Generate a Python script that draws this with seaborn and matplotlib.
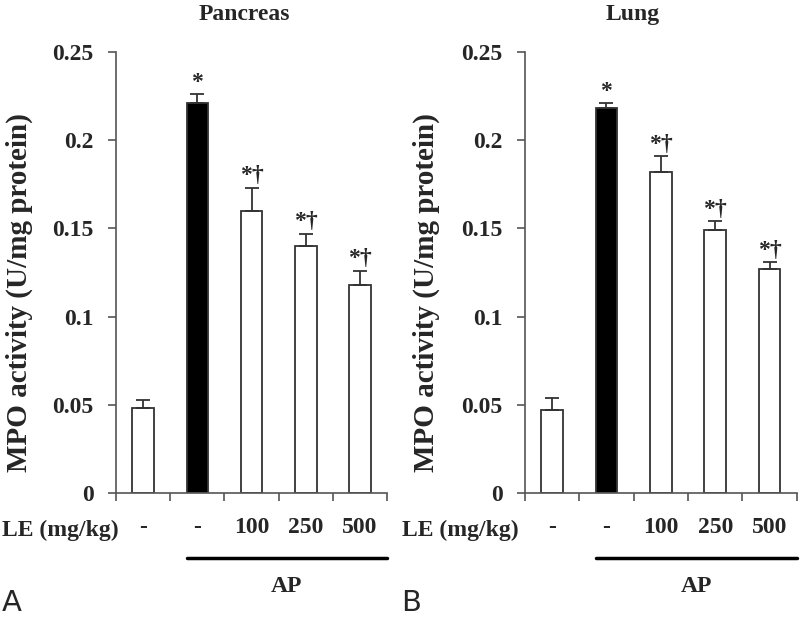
import numpy as np
import pandas as pd
import matplotlib.pyplot as plt
import seaborn as sns
from matplotlib.transforms import blended_transform_factory

groups = ["Control", "AP", "AP+LE100", "AP+LE250", "AP+LE500"]
le_labels = ["-", "-", "100", "250", "500"]
signif = ["", "*", "*\u2020", "*\u2020", "*\u2020"]

pancreas_mpo = [0.048, 0.221, 0.160, 0.140, 0.118]
pancreas_err = [0.005, 0.005, 0.013, 0.007, 0.008]
lung_mpo = [0.047, 0.218, 0.182, 0.149, 0.127]
lung_err = [0.007, 0.003, 0.009, 0.005, 0.004]

bar_colors = ["white", "black", "white", "white", "white"]

sns.set_style("ticks")
plt.rcParams["font.family"] = ["Liberation Serif", "DejaVu Serif"]
plt.rcParams["font.weight"] = "bold"

fs = 17
fig = plt.figure(figsize=(8, 6.22), dpi=100)

panels = [
    ("Pancreas", pancreas_mpo, pancreas_err, [0.145, 0.2074, 0.339, 0.709], "A", 0.024, 0.306, 0.0),
    ("Lung", lung_mpo, lung_err, [0.656, 0.2074, 0.340, 0.709], "B", 0.533, 0.791, 0.5),
]

for title, vals, errs, rect, letter, ylab_x, title_x, x0 in panels:
    ax = fig.add_axes(rect)
    df = pd.DataFrame({"group": groups, "mpo": vals})
    sns.barplot(data=df, x="group", y="mpo", hue="group", palette=bar_colors,
                legend=False, width=0.4, edgecolor="#333333", linewidth=1.3,
                errorbar=None, ax=ax)
    xs = [p.get_x() + p.get_width() / 2 for p in ax.patches]
    ax.errorbar(xs, vals, yerr=[np.zeros(len(errs)), errs], fmt="none",
                ecolor="#333333", elinewidth=1.3, capsize=5, capthick=1.3)
    for x, v, e, s in zip(xs, vals, errs, signif):
        if s:
            ax.annotate(s, (x, v + e), xytext=(0, 1), textcoords="offset points",
                        ha="center", va="bottom", fontsize=fs, fontweight="bold")

    ax.set_ylim(0, 0.25)
    ax.set_xlim(-0.5, 4.5)
    ax.set_yticks([0, 0.05, 0.1, 0.15, 0.2, 0.25])
    ax.set_yticklabels(["0", "0.05", "0.1", "0.15", "0.2", "0.25"], fontsize=fs, fontweight="bold")
    ax.set_xticks(np.arange(-0.5, 5, 1))
    ax.set_xticklabels([])
    ax.set_xticks(np.arange(5), minor=True)
    ax.set_xticklabels(le_labels, minor=True, fontsize=fs, fontweight="bold")
    ax.tick_params(axis="x", which="minor", length=0, pad=17)
    ax.tick_params(axis="both", which="major", length=6, width=1.2, color="#555555")
    ax.tick_params(axis="y", pad=10)
    ax.set_xlabel("")
    ax.set_ylabel("")
    for sp in ["left", "bottom"]:
        ax.spines[sp].set_color("#555555")
        ax.spines[sp].set_linewidth(1.2)
    sns.despine(ax=ax)

    # AP bracket under the treated groups
    tr = blended_transform_factory(ax.transData, ax.transAxes)
    ax.plot([0.81, 4.5], [-0.147, -0.147], color="black", lw=2.5,
            transform=tr, clip_on=False)
    ax.text(2.65, -0.213, "AP", transform=tr, ha="center", va="center",
            fontsize=fs, fontweight="bold")

    fig.text(ylab_x, 0.53, "MPO activity (U/mg protein)", rotation=90,
             ha="center", va="center", fontsize=21, fontweight="bold")
    fig.text(title_x, 0.976, title, ha="center", va="center",
             fontsize=fs, fontweight="bold")
    fig.text(x0 + 0.003, 0.148, "LE (mg/kg)",
             ha="left", va="center", fontsize=fs, fontweight="bold")
    fig.text(x0 + 0.002, 0.03, letter, ha="left", va="center",
             fontsize=21, fontweight="normal", family="DejaVu Sans")

fig.savefig("out.png", dpi=100, facecolor="white")
